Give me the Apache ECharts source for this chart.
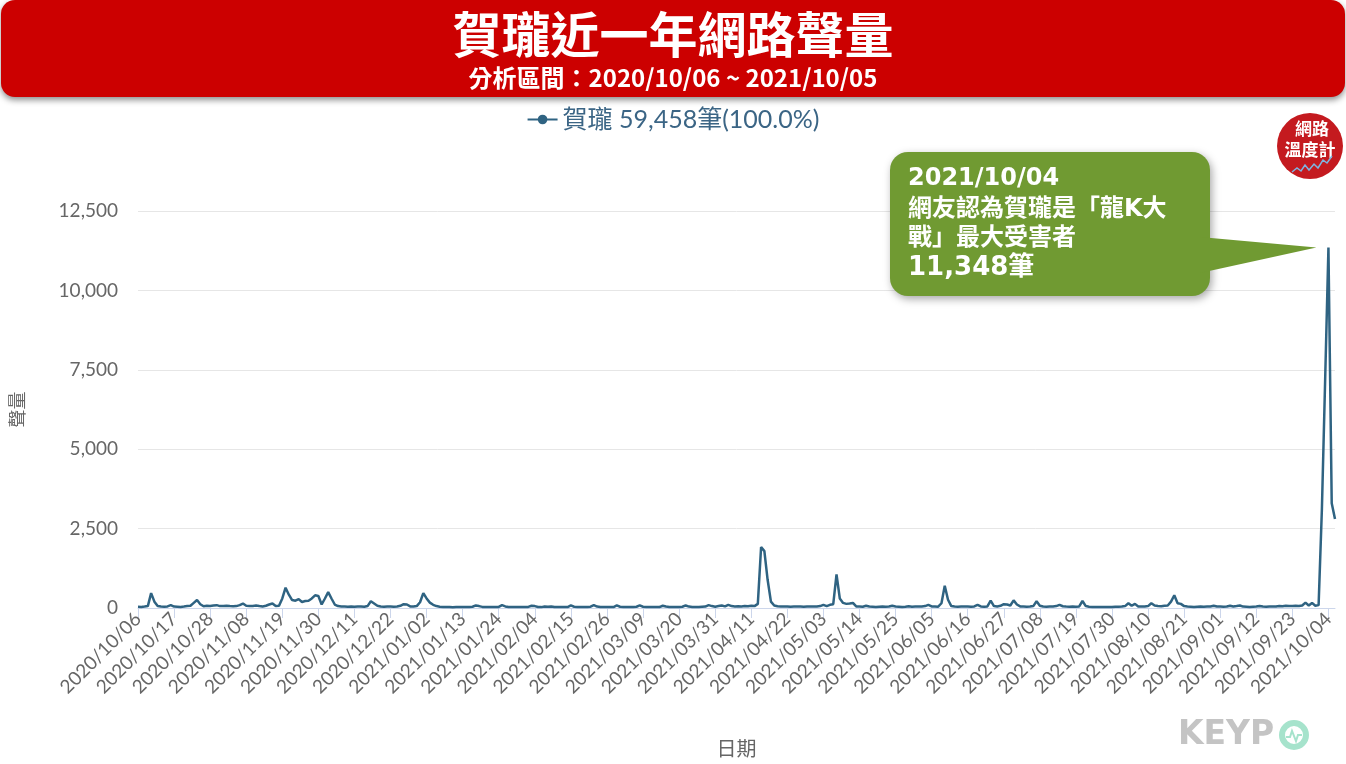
<!DOCTYPE html>
<html><head><meta charset="utf-8">
<script src="https://cdn.jsdelivr.net/npm/echarts@6/dist/echarts.min.js"></script>
<style>html,body{margin:0;padding:0;background:#fff}#c{width:1346px;height:764px}</style>
</head><body><div id="c"></div>
<script>
// ---------- data ----------
const titleText = '賀瓏近一年網路聲量';
const subtitleText = '分析區間：2020/10/06 ~ 2021/10/05';
const seriesName = '賀瓏';
const legendText = '賀瓏 59,458筆(100.0%)';
const startDate = '2020-10-06';
const dayCount = 366;
const yTicks = [0, 2500, 5000, 7500, 10000, 12500];
const peakIndex = 363;
const peakValue = 11348;
const calloutLines = ['2021/10/04', '網友認為賀瓏是「龍K大', '戰」最大受害者', '11,348筆'];

const v2020_10 = [40, 35, 45, 60, 470, 200, 60, 45, 40, 50, 90, 45, 40, 35, 45, 60, 70, 160, 250, 120, 55, 70, 65, 80, 90, 60];
const v2020_11 = [60, 70, 60, 55, 60, 90, 140, 70, 60, 65, 80, 60, 50, 70, 110, 140, 60, 70, 300, 640, 420, 250, 230, 280, 190, 220, 230, 300, 400, 380];
const v2020_12 = [110, 300, 500, 300, 110, 60, 50, 45, 40, 45, 40, 50, 45, 40, 60, 210, 140, 70, 45, 40, 50, 45, 40, 50, 70, 120, 110, 50, 45, 60, 180];
const v2021_01 = [470, 300, 170, 100, 60, 40, 35, 30, 30, 25, 30, 28, 30, 35, 30, 40, 80, 60, 35, 30, 30, 28, 30, 35, 90, 50, 30, 28, 30, 35, 30];
const v2021_02 = [30, 35, 70, 60, 30, 28, 50, 40, 50, 30, 28, 30, 35, 30, 80, 40, 30, 28, 30, 35, 40, 90, 45, 30, 28, 30, 35, 30];
const v2021_03 = [80, 40, 30, 28, 30, 35, 40, 80, 40, 30, 28, 30, 35, 30, 70, 45, 30, 28, 30, 35, 40, 80, 45, 30, 28, 35, 40, 45, 90, 60, 40];
const v2021_04 = [60, 80, 50, 100, 60, 50, 55, 50, 60, 55, 70, 60, 130, 1920, 1790, 880, 200, 80, 55, 50, 45, 50, 40, 45, 50, 45, 40, 50, 45, 50];
const v2021_05 = [50, 60, 100, 60, 100, 120, 1060, 300, 160, 130, 140, 160, 50, 45, 40, 70, 45, 40, 35, 40, 45, 40, 45, 70, 45, 40, 35, 40, 55, 40, 45];
const v2021_06 = [45, 50, 60, 100, 50, 45, 40, 150, 700, 260, 60, 45, 40, 45, 50, 45, 40, 50, 100, 50, 40, 50, 230, 60, 50, 70, 120, 110, 80, 240];
const v2021_07 = [110, 50, 45, 40, 45, 60, 210, 70, 45, 40, 45, 50, 60, 100, 55, 45, 40, 45, 40, 50, 220, 60, 40, 35, 30, 35, 30, 30, 35, 30, 40];
const v2021_08 = [40, 45, 60, 150, 70, 130, 50, 45, 50, 60, 150, 80, 60, 55, 70, 80, 200, 400, 150, 130, 60, 45, 40, 35, 40, 45, 40, 45, 50, 70, 45];
const v2021_09 = [45, 40, 45, 70, 45, 60, 80, 45, 40, 35, 40, 45, 65, 45, 40, 45, 50, 45, 60, 55, 70, 60, 65, 70, 60, 80, 170, 80, 160, 70];
const v2021_10 = [90, 3100, 7200, 11348, 3300, 2800];

const values = [].concat(v2020_10, v2020_11, v2020_12, v2021_01, v2021_02, v2021_03,
  v2021_04, v2021_05, v2021_06, v2021_07, v2021_08, v2021_09, v2021_10);

// category labels (calendar days)
const dates = [];
(function () {
  const d0 = new Date(startDate + 'T00:00:00Z');
  for (let i = 0; i < dayCount; i++) {
    const d = new Date(d0.getTime() + i * 86400000);
    const mm = String(d.getUTCMonth() + 1).padStart(2, '0');
    const dd = String(d.getUTCDate()).padStart(2, '0');
    dates.push(d.getUTCFullYear() + '/' + mm + '/' + dd);
  }
})();

// ---------- chart ----------
const LINE = '#2f6382';
const AXISF = 'Lato, "Noto Sans CJK TC", sans-serif';
const CJK = '"Noto Sans CJK TC", sans-serif';
const chart = echarts.init(document.getElementById('c'), null, { renderer: 'canvas' });

const option = {
  animation: false,
  backgroundColor: '#ffffff',
  grid: { left: 138, right: 11, top: 211, bottom: 156, containLabel: false, outerBoundsMode: 'none' },
  legend: {
    top: 102, left: 'center',
    data: [seriesName],
    formatter: () => legendText,
    itemWidth: 30, itemHeight: 12, itemGap: 6,
    textStyle: { color: '#3b6585', fontSize: 25, fontFamily: AXISF }
  },
  xAxis: {
    type: 'category', data: dates, boundaryGap: false,
    axisLine: { lineStyle: { color: '#ccd6eb', width: 1 } },
    axisTick: { interval: 10, length: 10, lineStyle: { color: '#ccd6eb' } },
    axisLabel: { interval: 10, rotate: 45, color: '#666666', fontSize: 19, fontFamily: AXISF, margin: 8 },
    name: '日期', nameLocation: 'middle', nameGap: 130,
    nameTextStyle: { color: '#666666', fontSize: 20, fontFamily: CJK }
  },
  yAxis: {
    type: 'value', min: yTicks[0], max: yTicks[yTicks.length - 1], interval: yTicks[1] - yTicks[0],
    axisLine: { show: false }, axisTick: { show: false },
    axisLabel: { color: '#666666', fontSize: 19, fontFamily: AXISF, margin: 20,
      formatter: v => v.toLocaleString('en-US') },
    splitLine: { lineStyle: { color: '#e6e6e6', width: 1 } },
    name: '聲量', nameLocation: 'middle', nameRotate: 90, nameGap: 112,
    nameTextStyle: { color: '#666666', fontSize: 18, fontFamily: CJK }
  },
  series: [{
    name: seriesName, type: 'line', data: values,
    symbol: 'circle', symbolSize: 8, showSymbol: false,
    lineStyle: { width: 2.5, color: LINE }, itemStyle: { color: LINE }
  }]
};
chart.setOption(option);

const tip = chart.convertToPixel({ seriesIndex: 0 }, [peakIndex, peakValue]);
const CALL = '#709a32';
const CF = '"DejaVu Sans", "Noto Sans CJK TC", sans-serif';
chart.setOption({
  graphic: [
    { type: 'rect', z: 10, shape: { x: 1, y: 0, width: 1344, height: 97, r: 14 },
      style: { fill: '#cc0000', shadowBlur: 6, shadowOffsetY: 3, shadowColor: 'rgba(0,0,0,0.45)' } },
    { type: 'text', z: 11, style: { text: titleText, x: 673, y: 34, align: 'center', verticalAlign: 'middle',
      font: 'bold 49px ' + CJK, fill: '#ffffff' } },
    { type: 'text', z: 11, style: { text: subtitleText, x: 673, y: 78, align: 'center', verticalAlign: 'middle',
      font: 'bold 24px ' + CJK, fill: '#ffffff' } },
    // logo
    { type: 'circle', z: 10, shape: { cx: 1310, cy: 146, r: 33 }, style: { fill: '#c41a1f' } },
    { type: 'text', z: 11, style: { text: '網路', x: 1312, y: 129, align: 'center', verticalAlign: 'middle',
      font: 'bold 17px ' + CJK, fill: '#ffffff' } },
    { type: 'text', z: 11, style: { text: '溫度計', x: 1310, y: 150, align: 'center', verticalAlign: 'middle',
      font: 'bold 17px ' + CJK, fill: '#ffffff' } },
    { type: 'polyline', z: 11, shape: { points: [[1292,172],[1297,168],[1301,171],[1305,165],[1309,170],[1314,164],[1318,168],[1323,160],[1327,163],[1332,156]] },
      style: { stroke: '#7fb4e0', lineWidth: 1.5, fill: null } },
    // callout
    { type: 'rect', z: 20, shape: { x: 890, y: 152, width: 320, height: 144, r: 18 },
      style: { fill: CALL, shadowBlur: 8, shadowOffsetX: 2, shadowOffsetY: 3, shadowColor: 'rgba(0,0,0,0.35)' } },
    { type: 'polygon', z: 21, shape: { points: [[1200, 237], [tip[0] - 12, tip[1]], [1200, 273]] },
      style: { fill: CALL } },
    { type: 'text', z: 22, style: { text: calloutLines[0], x: 908, y: 179, verticalAlign: 'middle', font: 'bold 24px ' + CF, fill: '#fff' } },
    { type: 'text', z: 22, style: { text: calloutLines[1], x: 908, y: 210, verticalAlign: 'middle', font: 'bold 24px ' + CF, fill: '#fff' } },
    { type: 'text', z: 22, style: { text: calloutLines[2], x: 908, y: 239, verticalAlign: 'middle', font: 'bold 24px ' + CF, fill: '#fff' } },
    { type: 'text', z: 22, style: { text: calloutLines[3], x: 908, y: 268, verticalAlign: 'middle', font: 'bold 26px ' + CF, fill: '#fff' } },
    // KEYPO watermark
    { type: 'text', z: 5, style: { text: 'KEYP', x: 1178, y: 735, verticalAlign: 'middle', font: 'bold 33px "DejaVu Sans", sans-serif', fill: '#c4c4c4' } },
    { type: 'circle', z: 5, shape: { cx: 1294, cy: 735, r: 12 }, style: { fill: 'none', stroke: '#a6e3cc', lineWidth: 6 } },
    { type: 'polyline', z: 5, shape: { points: [[1286,737],[1290,737],[1292,731],[1296,741],[1298,735],[1302,735]] },
      style: { stroke: '#a6e3cc', lineWidth: 2, fill: null } }
  ]
});
</script>
</body></html>
